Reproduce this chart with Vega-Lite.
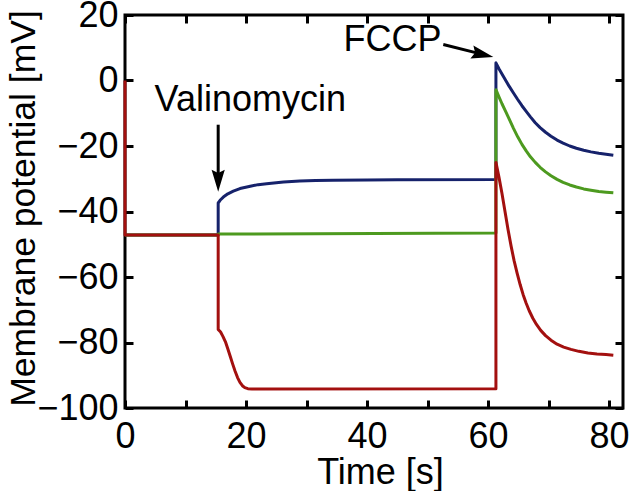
{
  "$schema": "https://vega.github.io/schema/vega-lite/v6.json",
  "width": 498,
  "height": 393,
  "autosize": "none",
  "padding": {"left": 125, "top": 15, "right": 6, "bottom": 83},
  "background": "white",
  "config": {
    "view": {"stroke": "black", "strokeWidth": 3},
    "font": "Liberation Sans",
    "axis": {
      "grid": false,
      "domain": false,
      "ticks": true,
      "tickColor": "black",
      "tickOpacity": 1,
      "tickWidth": 3,
      "tickSize": 8,
      "offset": -8,
      "zindex": 1,
      "labelFont": "Liberation Sans",
      "labelFontSize": 36,
      "labelColor": "black",
      "titleFont": "Liberation Sans",
      "titleFontSize": 36,
      "titleFontWeight": "normal",
      "titleColor": "black"
    }
  },
  "datasets": {
    "traces": [
      {"series": "A", "i": 1, "t": 0, "v": -47.2},
      {"series": "A", "i": 2, "t": 15.4, "v": -47.2},
      {"series": "A", "i": 3, "t": 15.4, "v": -37.4},
      {"series": "A", "i": 4, "t": 15.8, "v": -36.4},
      {"series": "A", "i": 5, "t": 16.25, "v": -35.6},
      {"series": "A", "i": 6, "t": 17.0, "v": -34.6},
      {"series": "A", "i": 7, "t": 17.9, "v": -33.8},
      {"series": "A", "i": 8, "t": 19.0, "v": -33.0},
      {"series": "A", "i": 9, "t": 20.7, "v": -32.3},
      {"series": "A", "i": 10, "t": 22.0, "v": -31.8},
      {"series": "A", "i": 11, "t": 23.4, "v": -31.5},
      {"series": "A", "i": 12, "t": 25.0, "v": -31.2},
      {"series": "A", "i": 13, "t": 26.2, "v": -31.0},
      {"series": "A", "i": 14, "t": 28.9, "v": -30.7},
      {"series": "A", "i": 15, "t": 31.5, "v": -30.55},
      {"series": "A", "i": 16, "t": 34.4, "v": -30.45},
      {"series": "A", "i": 17, "t": 40.0, "v": -30.35},
      {"series": "A", "i": 18, "t": 45.0, "v": -30.3},
      {"series": "A", "i": 19, "t": 61.3, "v": -30.2},
      {"series": "A", "i": 20, "t": 61.3, "v": 5.4},
      {"series": "A", "i": 21, "t": 61.8, "v": 3.6},
      {"series": "A", "i": 22, "t": 62.3, "v": 2.0},
      {"series": "A", "i": 23, "t": 62.9, "v": 0.1},
      {"series": "A", "i": 24, "t": 63.5, "v": -1.8},
      {"series": "A", "i": 25, "t": 64.2, "v": -3.8},
      {"series": "A", "i": 26, "t": 64.9, "v": -5.8},
      {"series": "A", "i": 27, "t": 65.6, "v": -7.7},
      {"series": "A", "i": 28, "t": 66.3, "v": -9.4},
      {"series": "A", "i": 29, "t": 67.0, "v": -11.1},
      {"series": "A", "i": 30, "t": 67.8, "v": -12.9},
      {"series": "A", "i": 31, "t": 68.6, "v": -14.4},
      {"series": "A", "i": 32, "t": 69.5, "v": -15.8},
      {"series": "A", "i": 33, "t": 70.4, "v": -17.0},
      {"series": "A", "i": 34, "t": 71.4, "v": -18.2},
      {"series": "A", "i": 35, "t": 72.4, "v": -19.1},
      {"series": "A", "i": 36, "t": 73.5, "v": -20.0},
      {"series": "A", "i": 37, "t": 74.6, "v": -20.7},
      {"series": "A", "i": 38, "t": 75.8, "v": -21.3},
      {"series": "A", "i": 39, "t": 77.0, "v": -21.8},
      {"series": "A", "i": 40, "t": 78.3, "v": -22.2},
      {"series": "A", "i": 41, "t": 79.5, "v": -22.5},
      {"series": "A", "i": 42, "t": 80.7, "v": -22.8},
      {"series": "B", "i": 1, "t": 0, "v": -47.2},
      {"series": "B", "i": 2, "t": 15.4, "v": -47.2},
      {"series": "B", "i": 3, "t": 15.4, "v": -46.9},
      {"series": "B", "i": 4, "t": 61.3, "v": -46.6},
      {"series": "B", "i": 5, "t": 61.3, "v": -2.8},
      {"series": "B", "i": 6, "t": 61.8, "v": -5.0},
      {"series": "B", "i": 7, "t": 62.3, "v": -7.1},
      {"series": "B", "i": 8, "t": 62.9, "v": -9.4},
      {"series": "B", "i": 9, "t": 63.5, "v": -11.8},
      {"series": "B", "i": 10, "t": 64.2, "v": -14.6},
      {"series": "B", "i": 11, "t": 64.9, "v": -17.2},
      {"series": "B", "i": 12, "t": 65.6, "v": -19.5},
      {"series": "B", "i": 13, "t": 66.3, "v": -21.5},
      {"series": "B", "i": 14, "t": 67.0, "v": -23.3},
      {"series": "B", "i": 15, "t": 67.8, "v": -25.0},
      {"series": "B", "i": 16, "t": 68.6, "v": -26.5},
      {"series": "B", "i": 17, "t": 69.5, "v": -27.9},
      {"series": "B", "i": 18, "t": 70.4, "v": -29.1},
      {"series": "B", "i": 19, "t": 71.4, "v": -30.2},
      {"series": "B", "i": 20, "t": 72.4, "v": -31.1},
      {"series": "B", "i": 21, "t": 73.5, "v": -31.9},
      {"series": "B", "i": 22, "t": 74.6, "v": -32.5},
      {"series": "B", "i": 23, "t": 75.8, "v": -33.1},
      {"series": "B", "i": 24, "t": 77.0, "v": -33.5},
      {"series": "B", "i": 25, "t": 78.3, "v": -33.9},
      {"series": "B", "i": 26, "t": 79.5, "v": -34.1},
      {"series": "B", "i": 27, "t": 80.7, "v": -34.3},
      {"series": "C", "i": 1, "t": 0, "v": 0},
      {"series": "C", "i": 2, "t": 0, "v": -47.2},
      {"series": "C", "i": 3, "t": 15.4, "v": -47.2},
      {"series": "C", "i": 4, "t": 15.4, "v": -76.0},
      {"series": "C", "i": 5, "t": 15.8, "v": -76.8},
      {"series": "C", "i": 6, "t": 16.2, "v": -78.2},
      {"series": "C", "i": 7, "t": 16.6, "v": -79.8},
      {"series": "C", "i": 8, "t": 17.0, "v": -82.0},
      {"series": "C", "i": 9, "t": 17.4, "v": -84.3},
      {"series": "C", "i": 10, "t": 17.8, "v": -86.6},
      {"series": "C", "i": 11, "t": 18.2, "v": -88.8},
      {"series": "C", "i": 12, "t": 18.6, "v": -90.7},
      {"series": "C", "i": 13, "t": 19.0, "v": -92.2},
      {"series": "C", "i": 14, "t": 19.4, "v": -93.2},
      {"series": "C", "i": 15, "t": 19.8, "v": -93.8},
      {"series": "C", "i": 16, "t": 20.3, "v": -94.1},
      {"series": "C", "i": 17, "t": 21.0, "v": -94.2},
      {"series": "C", "i": 18, "t": 61.3, "v": -94.1},
      {"series": "C", "i": 19, "t": 61.3, "v": -25.0},
      {"series": "C", "i": 20, "t": 61.8, "v": -29.5},
      {"series": "C", "i": 21, "t": 62.3, "v": -34.5},
      {"series": "C", "i": 22, "t": 62.8, "v": -40.0},
      {"series": "C", "i": 23, "t": 63.3, "v": -45.5},
      {"series": "C", "i": 24, "t": 63.8, "v": -50.5},
      {"series": "C", "i": 25, "t": 64.3, "v": -55.0},
      {"series": "C", "i": 26, "t": 64.8, "v": -58.8},
      {"series": "C", "i": 27, "t": 65.3, "v": -62.3},
      {"series": "C", "i": 28, "t": 65.8, "v": -65.4},
      {"series": "C", "i": 29, "t": 66.3, "v": -68.0},
      {"series": "C", "i": 30, "t": 66.8, "v": -70.3},
      {"series": "C", "i": 31, "t": 67.4, "v": -72.6},
      {"series": "C", "i": 32, "t": 68.0, "v": -74.5},
      {"series": "C", "i": 33, "t": 68.7, "v": -76.3},
      {"series": "C", "i": 34, "t": 69.5, "v": -77.9},
      {"series": "C", "i": 35, "t": 70.4, "v": -79.3},
      {"series": "C", "i": 36, "t": 71.4, "v": -80.5},
      {"series": "C", "i": 37, "t": 72.5, "v": -81.4},
      {"series": "C", "i": 38, "t": 73.7, "v": -82.1},
      {"series": "C", "i": 39, "t": 75.0, "v": -82.7},
      {"series": "C", "i": 40, "t": 76.5, "v": -83.2},
      {"series": "C", "i": 41, "t": 78.0, "v": -83.5},
      {"series": "C", "i": 42, "t": 79.5, "v": -83.7},
      {"series": "C", "i": 43, "t": 80.7, "v": -83.9}
    ],
    "notes": [
      {"label": "Valinomycin", "tx": 20.7, "ty": -9.4, "x1": 15.4, "y1": -13.5, "x2": 15.4, "y2": -29.5, "hx": 15.4, "hy": -30.6},
      {"label": "FCCP", "tx": 44.2, "ty": 9.0, "x1": 52.6, "y1": 11.0, "x2": 58.6, "y2": 8.2, "hx": 59.1, "hy": 7.95}
    ]
  },
  "resolve": {"axis": {"x": "independent", "y": "independent"}},
  "layer": [
    {
      "data": {"name": "traces"},
      "mark": {"type": "line", "strokeWidth": 3, "strokeJoin": "round", "strokeCap": "butt"},
      "encoding": {
        "x": {
          "field": "t", "type": "quantitative",
          "scale": {"domain": [0, 82.3], "nice": false, "zero": false},
          "axis": {
            "orient": "bottom",
            "title": "Time [s]",
            "values": [0, 10, 20, 30, 40, 50, 60, 70, 80],
            "labelExpr": "datum.value % 20 === 0 ? datum.label : ''",
            "labelPadding": 11,
            "titleX": 255,
            "titleY": 83,
            "titleBaseline": "alphabetic",
            "titleAlign": "center",
            "labelFlush": false,
            "labelOverlap": false
          }
        },
        "y": {
          "field": "v", "type": "quantitative",
          "scale": {"domain": [-100, 20], "nice": false, "zero": false},
          "axis": {
            "orient": "left",
            "title": "Membrane potential [mV]",
            "values": [-100, -80, -60, -40, -20, 0, 20],
            "labelPadding": 7,
            "titleX": -99,
            "titleY": 193,
            "titleAngle": 270,
            "titleBaseline": "alphabetic",
            "titleAlign": "center",
            "titleFontSize": 35.5,
            "labelFlush": false,
            "labelOverlap": false
          }
        },
        "color": {
          "field": "series", "type": "nominal",
          "scale": {"domain": ["A", "B", "C"], "range": ["#16226b", "#4d9a1f", "#a3100f"]},
          "legend": null
        },
        "order": {"field": "i", "type": "quantitative"}
      }
    },
    {
      "data": {"name": "notes"},
      "mark": {"type": "rule", "strokeWidth": 3, "color": "black"},
      "encoding": {
        "x": {
          "field": "x1", "type": "quantitative",
          "scale": {"domain": [0, 82.3], "nice": false, "zero": false},
          "axis": {"orient": "top", "title": null, "labels": false, "values": [0, 10, 20, 30, 40, 50, 60, 70, 80]}
        },
        "y": {
          "field": "y1", "type": "quantitative",
          "scale": {"domain": [-100, 20], "nice": false, "zero": false},
          "axis": {"orient": "right", "title": null, "labels": false, "values": [-100, -80, -60, -40, -20, 0, 20]}
        },
        "x2": {"field": "x2"},
        "y2": {"field": "y2"}
      }
    },
    {
      "data": {"name": "notes"},
      "mark": {"type": "text", "fontSize": 36, "font": "Liberation Sans", "align": "center", "baseline": "alphabetic", "color": "black"},
      "encoding": {
        "x": {"field": "tx", "type": "quantitative", "axis": null},
        "y": {"field": "ty", "type": "quantitative", "axis": null},
        "text": {"field": "label"}
      }
    },
    {
      "data": {"name": "notes"},
      "transform": [{"filter": "datum.label === 'Valinomycin'"}],
      "mark": {"type": "point", "filled": true, "color": "black", "opacity": 1, "size": 484, "shape": "M-0.6,-1L0,1L0.6,-1L0,-0.7Z"},
      "encoding": {
        "x": {"field": "hx", "type": "quantitative", "axis": null},
        "y": {"field": "hy", "type": "quantitative", "axis": null}
      }
    },
    {
      "data": {"name": "notes"},
      "transform": [{"filter": "datum.label === 'FCCP'"}],
      "mark": {"type": "point", "filled": true, "color": "black", "opacity": 1, "size": 484, "angle": 13, "shape": "M-1,-0.6L1,0L-1,0.6L-0.7,0Z"},
      "encoding": {
        "x": {"field": "hx", "type": "quantitative", "axis": null},
        "y": {"field": "hy", "type": "quantitative", "axis": null}
      }
    }
  ]
}
